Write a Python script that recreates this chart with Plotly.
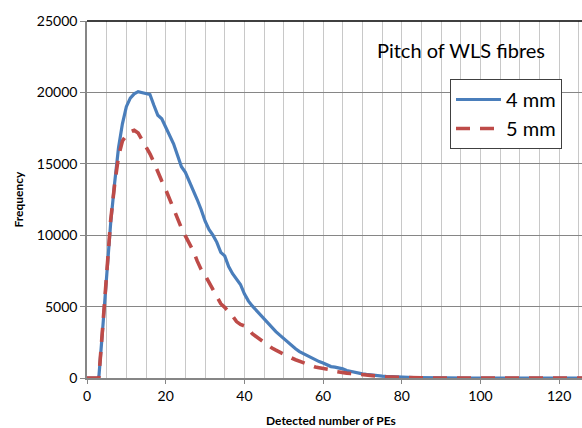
import plotly.graph_objects as go

pe_counts = list(range(0, 128))

freq_4mm = [0, 0, 0, 0, 3500, 7200, 10800, 13600, 16100, 17800,
            19000, 19600, 19900, 20050, 20000, 19950, 19850, 19100, 18400, 18150,
            17600, 17000, 16400, 15600, 14800, 14400, 13800, 13100, 12500, 11800,
            11000, 10400, 10000, 9500, 8800, 8550, 7800, 7300, 6950, 6550,
            5900, 5400, 5050, 4750, 4450, 4150, 3800, 3500, 3250, 3000,
            2750, 2500, 2250, 2050, 1850, 1700, 1550, 1400, 1250, 1150,
            1050, 920, 800, 760, 700, 640, 520, 450, 400, 330,
            290, 250, 210, 180, 150, 130, 110, 90, 80, 70,
            55, 45, 35, 25, 20, 15, 10, 8, 5, 4,
            3, 0, 0, 0, 0, 0, 0, 0, 0, 0,
            0, 0, 0, 0, 0, 0, 0, 0, 0, 0,
            0, 0, 0, 0, 0, 0, 0, 0, 0, 0,
            0, 0, 0, 0, 0, 0, 0, 0]

freq_5mm = [0, 0, 0, 0, 3600, 7600, 11000, 13500, 15500, 16600,
            17000, 17250, 17350, 17150, 16700, 16200, 15700, 15100, 14400, 13800,
            13200, 12500, 11800, 11100, 10500, 9950, 9400, 8900, 8200, 7600,
            7200, 6700, 6200, 5750, 5200, 4950, 4650, 4350, 3950, 3750,
            3650, 3450, 3100, 2900, 2650, 2450, 2250, 2100, 1950, 1800,
            1650, 1500, 1400, 1280, 1180, 1080, 950, 850, 770, 720,
            680, 650, 580, 460, 400, 370, 340, 310, 280, 240,
            200, 170, 150, 130, 110, 100, 85, 70, 60, 50,
            40, 30, 20, 15, 10, 6, 4, 0, 0, 0,
            0, 0, 0, 0, 0, 0, 0, 0, 0, 0,
            0, 0, 0, 0, 0, 0, 0, 0, 0, 0,
            0, 0, 0, 0, 0, 0, 0, 0, 0, 0,
            0, 0, 0, 0, 0, 0, 0, 0]

series_names = ["4 mm", "5 mm"]
legend_title = "Pitch of WLS fibres"
x_title = "Detected number of PEs"
y_title = "Frequency"

FONT = "Lato"

fig = go.Figure()
fig.add_trace(go.Scatter(x=pe_counts, y=freq_4mm, mode="lines", name=series_names[0],
                         line=dict(color="#4A7EBB", width=3.2)))
fig.add_trace(go.Scatter(x=pe_counts, y=freq_5mm, mode="lines", name=series_names[1],
                         line=dict(color="#BE4B48", width=3.6, dash="14px,10px")))

fig.update_layout(
    width=582, height=428,
    margin=dict(l=87, r=0, t=21, b=50),
    paper_bgcolor="white", plot_bgcolor="white",
    font=dict(family=FONT, color="#000000", size=14),
    showlegend=True,
    legend=dict(x=(562 - 87) / 495, y=(378 - 79) / 357, xanchor="right", yanchor="top",
                bgcolor="white", bordercolor="#404040", borderwidth=1,
                itemwidth=45,
                font=dict(family=FONT, size=20, color="#000000")),
    xaxis=dict(range=[0, 125.8], dtick=20, tick0=0, automargin=False,
               showgrid=True, gridcolor="#C8C8C8", gridwidth=1,
               minor=dict(dtick=5, showgrid=True, gridcolor="#C8C8C8", gridwidth=1),
               showline=True, linecolor="#868686", linewidth=1.5,
               ticks="outside", ticklen=4, tickcolor="#868686",
               tickfont=dict(family=FONT, size=14),
               zeroline=False),
    yaxis=dict(range=[0, 25000], dtick=5000, tick0=0, automargin=False,
               tickformat="d",
               showgrid=True, gridcolor="#868686", gridwidth=1,
               showline=True, linecolor="#868686", linewidth=1.5,
               ticks="outside", ticklen=5, tickcolor="#868686",
               tickfont=dict(family=FONT, size=14),
               zeroline=False),
)

# axis titles
fig.add_annotation(xref="paper", yref="paper", x=(331 - 87) / 495, y=(378 - 420) / 357,
                   text="<b>" + x_title + "</b>", showarrow=False,
                   xanchor="center", yanchor="middle",
                   font=dict(family=FONT, size=12, color="#000000"))
fig.add_annotation(xref="paper", yref="paper", x=(18 - 87) / 495, y=0.5,
                   text="<b>" + y_title + "</b>", showarrow=False, textangle=-90,
                   xanchor="center", yanchor="middle",
                   font=dict(family=FONT, size=12, color="#000000"))

# top border line of plot area
fig.add_shape(type="line", xref="paper", yref="paper", x0=0, x1=1, y0=1, y1=1,
              line=dict(color="#000000", width=1.5), layer="above")
# white box behind legend title
fig.add_shape(type="rect", xref="paper", yref="paper", x0=0.535, x1=1.0,
              y0=(378 - 70) / 357, y1=(378 - 28) / 357,
              fillcolor="white", line=dict(width=0), layer="between")
fig.add_annotation(xref="paper", yref="paper", x=(461 - 87) / 495, y=(378 - 50) / 357,
                   text=legend_title, showarrow=False, xanchor="center", yanchor="middle",
                   font=dict(family=FONT, size=20, color="#000000"))

fig.write_html("out.html",
               config={"displayModeBar": False},
               post_script="document.body.style.margin='0';document.body.style.overflow='hidden';")
